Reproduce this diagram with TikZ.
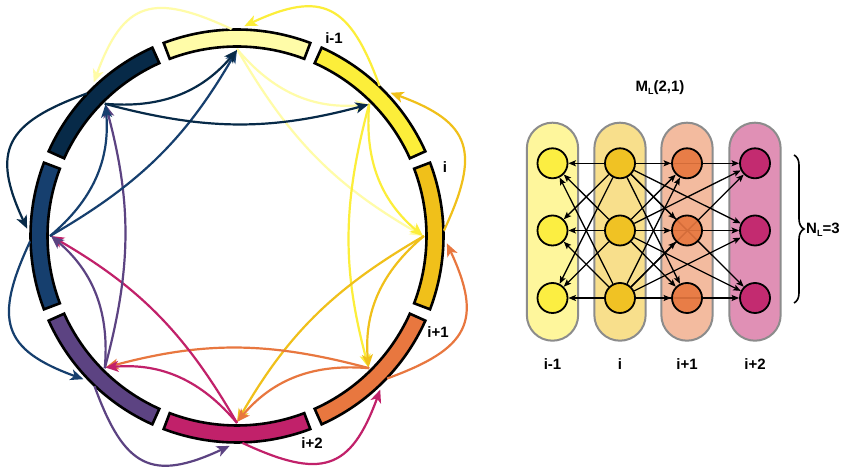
\documentclass[tikz,border=0pt]{standalone}
\usepackage{fontspec}
\setmainfont{Liberation Sans}
\usetikzlibrary{arrows.meta,decorations.pathreplacing,calc}
\definecolor{cA}{HTML}{FFFCA8}
\definecolor{cB}{HTML}{FCEE3A}
\definecolor{cC}{HTML}{F0C01A}
\definecolor{cD}{HTML}{E8773F}
\definecolor{cE}{HTML}{C1216A}
\definecolor{cF}{HTML}{5C4382}
\definecolor{cG}{HTML}{163F6E}
\definecolor{cH}{HTML}{072A48}
\definecolor{pillgray}{HTML}{8C8C8C}
\pgfdeclarelayer{bg}
\pgfdeclarelayer{mid}
\pgfsetlayers{bg,mid,main}
\tikzset{
  seg/.style={draw=black, line width=2.6pt},
  ringarr/.style={line width=2.2pt, -{Stealth[length=13pt,width=11pt,inset=3.5pt]}},
  pill/.style={draw=pillgray, line width=2pt, rounded corners=25.6pt, minimum width=51.3pt, minimum height=218pt, inner sep=0pt},
  nn/.style={circle, draw=black, line width=1.8pt, minimum size=30pt, inner sep=0pt, fill opacity=0.91},
  narr/.style={line width=1.3pt, -{Stealth[length=7.5pt,width=6pt,inset=1.5pt]}},
  lab/.style={font=\fontsize{15}{17}\selectfont\bfseries, inner sep=0pt},
}
\newcommand{\subL}{\raisebox{-3pt}{\fontsize{9}{9}\selectfont L}}
\begin{document}
\begin{tikzpicture}[x=1pt,y=1pt]
\begin{pgfonlayer}{bg}
\fill[white] (0,0) rectangle (843,468);
\end{pgfonlayer}
\useasboundingbox (0,0) rectangle (843,468);
\coordinate (C) at (237,232);
% ring segments and anchors
\foreach \k/\c in {0/cA,1/cB,2/cC,3/cD,4/cE,5/cF,6/cG,7/cH}{
  \pgfmathsetmacro\a{90-45*\k}
  \pgfmathsetmacro\sa{\a+20.8}
  \pgfmathsetmacro\ea{\a-20.8}
  \draw[seg, fill=\c] ($(C)+(\sa:206.5pt)$) arc[start angle=\sa, end angle=\ea, radius=206.5pt]
     -- ($(C)+(\ea:189.5pt)$) arc[start angle=\ea, end angle=\sa, radius=189.5pt] -- cycle;
  \pgfmathsetmacro\osa{\a+1.5}
  \pgfmathsetmacro\oea{\a-2}
  \coordinate (IS\k) at ($(C)+(\a:187pt)$);
  \coordinate (IE\k) at ($(C)+(\a:186pt)$);
  \coordinate (OS\k) at ($(C)+(\osa:207pt)$);
  \coordinate (OE\k) at ($(C)+(\oea:210pt)$);
}
% ring connectors
\foreach \k/\c in {0/cA,1/cB,2/cC,3/cD,4/cE,5/cF,6/cG,7/cH}{
  \pgfmathsetmacro\a{90-45*\k}
  \pgfmathtruncatemacro\km{mod(\k+7,8)}
  \pgfmathtruncatemacro\kp{mod(\k+1,8)}
  \pgfmathtruncatemacro\kpp{mod(\k+2,8)}
  \pgfmathsetmacro\oo{\a+65}
  \pgfmathsetmacro\oi{\a-20}
  \pgfmathsetmacro\ao{\a-140}
  \pgfmathsetmacro\ai{\a+95}
  \pgfmathsetmacro\bo{\a-150}
  \pgfmathsetmacro\bi{\a+60}
  \draw[ringarr, \c] (OS\k) to[out=\oo, in=\oi, looseness=1.5] (OE\km);
  \draw[ringarr, \c] (IS\k) to[out=\ao, in=\ai] (IE\kp);
  \draw[ringarr, \c] (IS\k) to[out=\bo, in=\bi] (IE\kpp);
}
% ring labels
\node[lab] (r1) at (334,430) {i-1};
\node[lab] (r2) at (445,301) {i};
\node[lab] (r3) at (438,136) {i+1};
\node[lab] (r4) at (312,25) {i+2};
% right panel
\foreach \j/\c/\xx/\t in {1/cB/552.5/i-1, 2/cC/620/i, 3/cD/687/i+1, 4/cE/755/i+2}{
  \begin{pgfonlayer}{bg}
    \node[pill, fill=\c!50!white] (P\j) at (\xx,236.3) {};
  \end{pgfonlayer}
  \node[nn, fill=\c] (N\j-1) at (\xx,304.7) {};
  \node[nn, fill=\c] (N\j-2) at (\xx,237.5) {};
  \node[nn, fill=\c] (N\j-3) at (\xx,170) {};
  \node[lab] (L\j) at (\xx,104) {\t};
}
\begin{pgfonlayer}{mid}
\foreach \r in {1,2,3}{
  \foreach \s in {1,2,3}{
    \draw[narr] (N2-\r) -- (N1-\s);
    \draw[narr] (N2-\r) -- (N3-\s);
    \draw[narr] (N2-\r) -- (N4-\s);
  }
}
\end{pgfonlayer}
\node[lab] (title) at (660,380) {M\subL(2,1)};
\coordinate (b1) at (794,313);
\coordinate (b2) at (794,165);
\draw[decorate, decoration={brace, amplitude=10pt}, line width=1.6pt] (b1) -- (b2);
\node[lab, anchor=west] (NL) at (806,238) {N\subL=3};
\end{tikzpicture}
\end{document}
